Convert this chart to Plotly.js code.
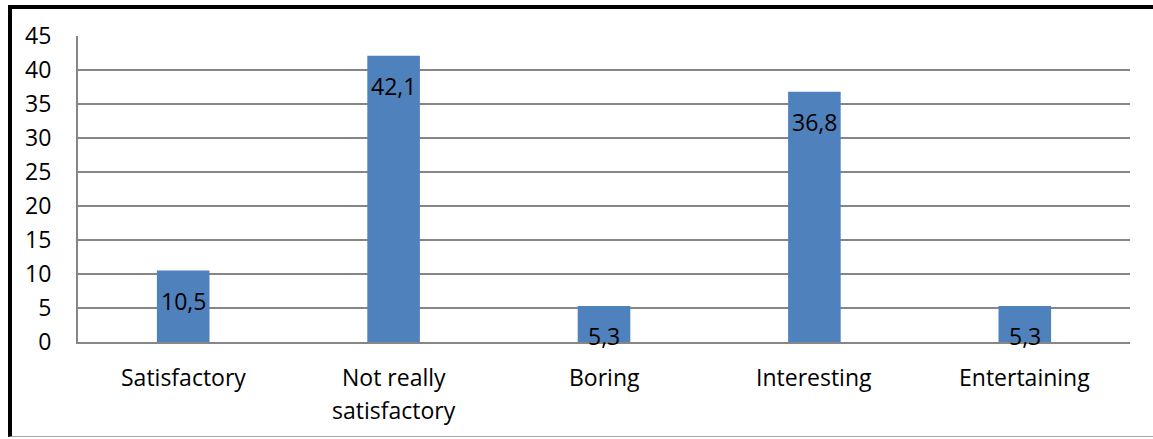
<!DOCTYPE html>
<html>
<head>
<meta charset="utf-8">
<script src="https://cdn.plot.ly/plotly-3.0.1.min.js"></script>
<style>
  html, body { margin: 0; padding: 0; background: #fff; }
  #frame {
    position: absolute; left: 8px; top: 5px; width: 1141px; height: 427px;
    border-left: 4px solid #000; border-top: 4px solid #000; border-bottom: 1px solid #a6a6a6;
  }
  #chart { position: absolute; left: 0; top: 0; width: 1153px; height: 439px; }
</style>
</head>
<body>
<div id="frame"></div>
<div id="chart"></div>
<script>
// Opinions about the course, in percent
const categories = ["Satisfactory", "Not really satisfactory", "Boring", "Interesting", "Entertaining"];
const categoryLines = [["Satisfactory"], ["Not really", "satisfactory"], ["Boring"], ["Interesting"], ["Entertaining"]];
const percentages = [10.5, 42.1, 5.3, 36.8, 5.3];
const yTicks = [0, 5, 10, 15, 20, 25, 30, 35, 40, 45];

const fontFamily = "'Open Sans', sans-serif";
const fontSize = 23;
const fmt = v => v.toFixed(1).replace(".", ",");

const trace = {
  type: "bar",
  x: categories,
  y: percentages,
  width: 0.25,
  marker: { color: "#4F81BD" },
  hoverinfo: "skip"
};

// value labels just inside the top of each bar
const valueLabels = percentages.map((v, i) => ({
  x: categories[i], y: v, xref: "x", yref: "y",
  text: fmt(v), showarrow: false,
  yanchor: "middle", yshift: -30,
  font: { family: fontFamily, size: fontSize, color: "#000" }
}));

// category names under the axis, one annotation per text line
const categoryLabels = [];
categoryLines.forEach((lines, i) => {
  lines.forEach((line, k) => {
    categoryLabels.push({
      x: categories[i], y: 0, xref: "x", yref: "paper",
      text: line, showarrow: false,
      yanchor: "middle", yshift: -35 - 33 * k,
      font: { family: fontFamily, size: fontSize, color: "#000" }
    });
  });
});

const layout = {
  width: 1153, height: 439,
  margin: { l: 78, r: 23, t: 36, b: 97 },
  paper_bgcolor: "rgba(0,0,0,0)",
  plot_bgcolor: "rgba(0,0,0,0)",
  showlegend: false,
  xaxis: {
    type: "category",
    showgrid: false,
    showline: true, linecolor: "#868686", linewidth: 2,
    ticks: "",
    showticklabels: false,
    fixedrange: true
  },
  yaxis: {
    range: [0, 45],
    tickvals: yTicks,
    ticktext: yTicks.map(String),
    showgrid: true, gridcolor: "#868686", gridwidth: 1.5,
    showline: true, linecolor: "#868686", linewidth: 2,
    zeroline: false,
    ticks: "",
    ticklabelstandoff: 20,
    tickfont: { family: fontFamily, size: fontSize, color: "#000" },
    fixedrange: true
  },
  annotations: valueLabels.concat(categoryLabels)
};

Plotly.newPlot("chart", [trace], layout, { displayModeBar: false, staticPlot: true });
</script>
</body>
</html>
